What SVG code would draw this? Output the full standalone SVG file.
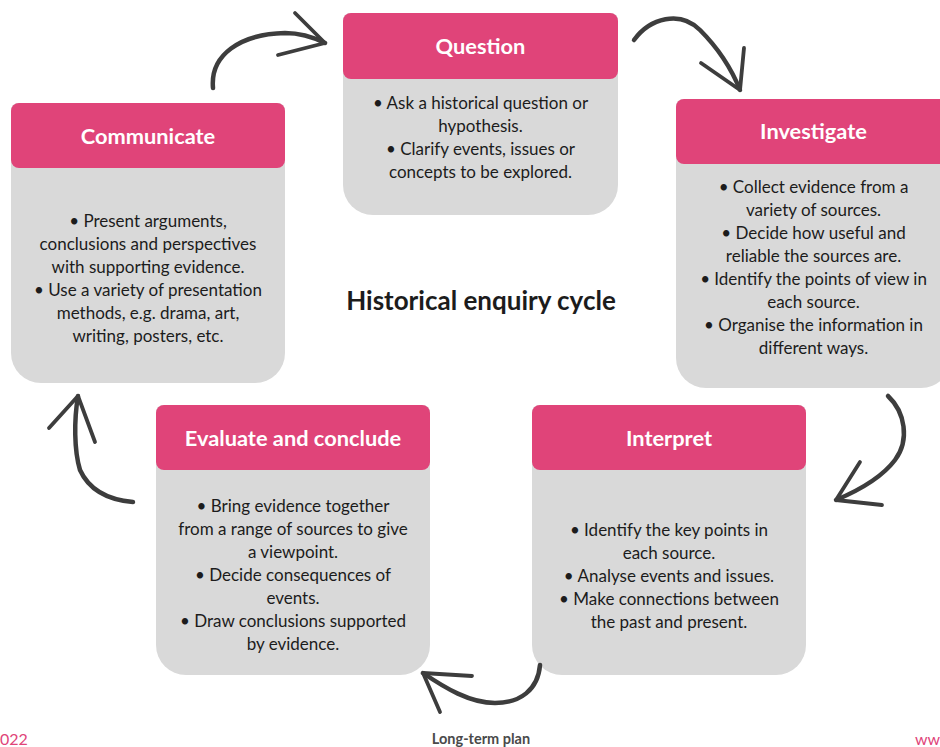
<svg xmlns="http://www.w3.org/2000/svg" width="940" height="747" viewBox="0 0 940 747">
<style>
.card{fill:#d9d9d9}
.head{fill:#e04479}
.ht{font-family:Lato,"Liberation Sans",sans-serif;font-weight:bold;font-size:21.8px;fill:#ffffff;text-anchor:middle}
.bt{font-family:Lato,"Liberation Sans",sans-serif;font-size:17px;fill:#1c1c1c;text-anchor:middle}
.arr{fill:none;stroke:#3d3d3d;stroke-width:4.5;stroke-linecap:round;stroke-linejoin:round}
.ah{fill:none;stroke:#3d3d3d;stroke-width:3.8;stroke-linecap:round;stroke-linejoin:round}
</style>
<rect width="940" height="747" fill="#ffffff"/>

<g id="question">
<path class="card" d="M351,13 H610 Q618,13 618,21 V185 A30,30 0 0 1 588,215 H373 A30,30 0 0 1 343,185 V21 Q343,13 351,13 Z"/>
<rect class="head" x="343" y="13" width="275" height="66" rx="8"/>
<text class="ht" x="480.5" y="54">Question</text>
<text class="bt" x="480.5" y="108.5">• Ask a historical question or</text>
<text class="bt" x="480.5" y="131.5">hypothesis.</text>
<text class="bt" x="480.5" y="154.5">• Clarify events, issues or</text>
<text class="bt" x="480.5" y="177.5">concepts to be explored.</text>
</g>

<g id="communicate">
<path class="card" d="M19,103 H277 Q285,103 285,111 V353 A30,30 0 0 1 255,383 H41 A30,30 0 0 1 11,353 V111 Q11,103 19,103 Z"/>
<rect class="head" x="11" y="103" width="274" height="65" rx="8"/>
<text class="ht" x="148" y="144">Communicate</text>
<text class="bt" x="148" y="226.5">• Present arguments,</text>
<text class="bt" x="148" y="249.5">conclusions and perspectives</text>
<text class="bt" x="148" y="272.5">with supporting evidence.</text>
<text class="bt" x="148" y="295.5">• Use a variety of presentation</text>
<text class="bt" x="148" y="318.5">methods, e.g. drama, art,</text>
<text class="bt" x="148" y="342">writing, posters, etc.</text>
</g>

<g id="investigate">
<path class="card" d="M684,99 H943 Q951,99 951,107 V358 A30,30 0 0 1 921,388 H706 A30,30 0 0 1 676,358 V107 Q676,99 684,99 Z"/>
<rect class="head" x="676" y="99" width="275" height="65" rx="8"/>
<text class="ht" x="813.5" y="139">Investigate</text>
<text class="bt" x="813.5" y="192.5">• Collect evidence from a</text>
<text class="bt" x="813.5" y="215.5">variety of sources.</text>
<text class="bt" x="813.5" y="238.5">• Decide how useful and</text>
<text class="bt" x="813.5" y="261.5">reliable the sources are.</text>
<text class="bt" x="813.5" y="284.5">• Identify the points of view in</text>
<text class="bt" x="813.5" y="307.5">each source.</text>
<text class="bt" x="813.5" y="330.5">• Organise the information in</text>
<text class="bt" x="813.5" y="353.5">different ways.</text>
</g>

<g id="interpret">
<path class="card" d="M540,405 H798 Q806,405 806,413 V645 A30,30 0 0 1 776,675 H562 A30,30 0 0 1 532,645 V413 Q532,405 540,405 Z"/>
<rect class="head" x="532" y="405" width="274" height="65" rx="8"/>
<text class="ht" x="669" y="446">Interpret</text>
<text class="bt" x="669" y="535.5">• Identify the key points in</text>
<text class="bt" x="669" y="558.5">each source.</text>
<text class="bt" x="669" y="581.5">• Analyse events and issues.</text>
<text class="bt" x="669" y="604.5">• Make connections between</text>
<text class="bt" x="669" y="627.5">the past and present.</text>
</g>

<g id="evaluate">
<path class="card" d="M164,405 H422 Q430,405 430,413 V645 A30,30 0 0 1 400,675 H186 A30,30 0 0 1 156,645 V413 Q156,405 164,405 Z"/>
<rect class="head" x="156" y="405" width="274" height="65" rx="8"/>
<text class="ht" x="293" y="446">Evaluate and conclude</text>
<text class="bt" x="293" y="511.5">• Bring evidence together</text>
<text class="bt" x="293" y="534.5">from a range of sources to give</text>
<text class="bt" x="293" y="557.5">a viewpoint.</text>
<text class="bt" x="293" y="580.5">• Decide consequences of</text>
<text class="bt" x="293" y="603.5">events.</text>
<text class="bt" x="293" y="626.5">• Draw conclusions supported</text>
<text class="bt" x="293" y="649.5">by evidence.</text>
</g>

<g id="connectors">
<path class="arr" d="M213,88 C210,55 240,34 285,33 C300,33 315,38 325,43"/>
<path class="ah" d="M295,13 L325,43 L278,55"/>
<path class="arr" d="M634,40 C650,18 680,10 700,30 C715,45 730,65 740,90"/>
<path class="ah" d="M744,48 L740,90 L701,63"/>
<path class="arr" d="M888,396 C905,412 910,440 895,460 C880,480 855,492 836,500"/>
<path class="ah" d="M860,462 L836,500 L882,505"/>
<path class="arr" d="M540,665 C538,690 520,703 495,703 C470,703 445,688 423,673"/>
<path class="ah" d="M472,676 L423,673 L440,712"/>
<path class="arr" d="M133,502 C110,500 90,492 80,470 C74,450 74,420 78,396"/>
<path class="ah" d="M49,428 L78,396 L95,442"/>
</g>

<text x="481" y="310" style="font-family:Lato,'Liberation Sans',sans-serif;font-weight:bold;font-size:26px;fill:#1c1c1c;text-anchor:middle">Historical enquiry cycle</text>

<text x="0" y="745" style="font-family:Lato,'Liberation Sans',sans-serif;font-size:16px;fill:#e04479">022</text>
<text x="481" y="744" style="font-family:Lato,'Liberation Sans',sans-serif;font-weight:bold;font-size:14.5px;fill:#4a4a4a;text-anchor:middle">Long-term plan</text>
<text x="915" y="745" style="font-family:Lato,'Liberation Sans',sans-serif;font-size:16px;fill:#e04479">ww</text>
</svg>
